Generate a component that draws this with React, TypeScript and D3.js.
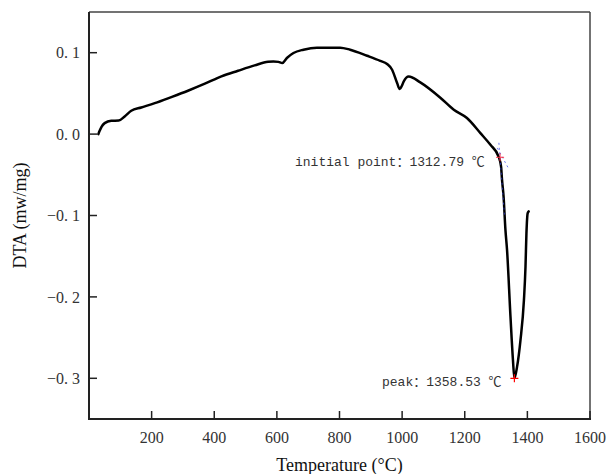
import React from 'react';
import * as d3 from 'd3';

// DTA curve
const temps = [30, 34, 40, 50, 71, 95, 114, 135, 167, 210, 263, 316, 370, 423, 476, 529, 572, 589, 605, 617, 632, 653, 685, 728, 802, 834, 888, 930, 952, 968, 984, 992, 1000, 1005, 1021, 1058, 1122, 1165, 1207, 1250, 1282, 1308, 1316, 1319, 1324, 1330, 1335, 1346, 1354, 1358.53, 1367, 1378, 1389, 1394, 1397, 1401, 1404];
const dta = [0.0, 0.004, 0.009, 0.0135, 0.0164, 0.0167, 0.0217, 0.0287, 0.0327, 0.038, 0.0455, 0.0533, 0.0619, 0.0709, 0.0778, 0.0844, 0.0889, 0.0893, 0.0887, 0.0873, 0.0935, 0.0996, 0.1037, 0.1062, 0.1062, 0.1037, 0.0963, 0.09, 0.0861, 0.0791, 0.0627, 0.0555, 0.06, 0.0647, 0.0709, 0.0635, 0.0447, 0.0299, 0.0197, 0.0012, -0.0132, -0.0276, -0.04, -0.056, -0.0767, -0.118, -0.142, -0.224, -0.278, -0.3, -0.286, -0.253, -0.204, -0.163, -0.122, -0.097, -0.095];

const xTicks = [200, 400, 600, 800, 1000, 1200, 1400, 1600];
const yTicks = [0.1, 0.0, -0.1, -0.2, -0.3];

const onset = { t: 1312.79, v: -0.0285, label: 'initial point：1312.79 ℃' };
const peak = { t: 1358.53, v: -0.3, label: 'peak：1358.53 ℃' };
// tangent lines drawn by the analysis software at the onset
const tangentA = [[1304, -0.017], [1339, -0.0416]];
const tangentB = [[1309, -0.0107], [1326.6, -0.099]];

const W = 608, H = 474;
const margin = { left: 89, right: 18, top: 12, bottom: 55 };

export default function App() {
    const x = d3.scaleLinear().domain([0, 1600]).range([margin.left, W - margin.right]);
    const y = d3.scaleLinear().domain([-0.35, 0.15]).range([H - margin.bottom, margin.top]);
    const [x0, x1] = x.range();
    const [y0, y1] = y.range();

    const line = d3.line<number>()
        .x((d, i) => x(temps[i]))
        .y(d => y(d))
        .curve(d3.curveMonotoneX);

    const fmt = (v: number) => d3.format('.1f')(v).replace('.', '. ').replace('-', '−');
    const serif = '"Liberation Serif", "Times New Roman", serif';
    const mono = '"Liberation Mono", "Noto Sans CJK SC", monospace';

    const plus = (cx: number, cy: number, s: number) =>
        `M${cx - s},${cy}H${cx + s}M${cx},${cy - s}V${cy + s}`;

    return (
        <svg width={W} height={H} style={{ position: 'absolute', left: 0, top: 0, background: '#fff' }}>
            {/* frame */}
            <line x1={x0} x2={x1} y1={y1} y2={y1} stroke="#444" strokeWidth={1.5} />
            <line x1={x1} x2={x1} y1={y1} y2={y0} stroke="#444" strokeWidth={1.5} />
            <line x1={x0} x2={x0} y1={y1} y2={y0 + 1} stroke="#222" strokeWidth={2} />
            <line x1={x0 - 1} x2={x1 + 1} y1={y0} y2={y0} stroke="#222" strokeWidth={2} />

            {xTicks.map(t => (
                <g key={t}>
                    <line x1={x(t)} x2={x(t)} y1={y0} y2={y0 - 8} stroke="#222" strokeWidth={1.5} />
                    <text x={x(t)} y={443} textAnchor="middle" fontFamily={serif} fontSize={16} fill="#333">{t}</text>
                </g>
            ))}
            {yTicks.map(t => (
                <g key={t}>
                    <line x1={x0} x2={x0 + 8} y1={y(t)} y2={y(t)} stroke="#222" strokeWidth={1.5} />
                    <text x={80} y={y(t)} dy="0.35em" textAnchor="end" fontFamily={serif} fontSize={16} fill="#333">{fmt(t)}</text>
                </g>
            ))}

            <text transform={`translate(26,${(y0 + y1) / 2}) rotate(-90)`} textAnchor="middle" fontFamily={serif} fontSize={18} fill="#111">DTA (mw/mg)</text>
            <text x={(x0 + x1) / 2} y={471} textAnchor="middle" fontFamily={serif} fontSize={18} fill="#111">Temperature (°C)</text>

            <path d={line(dta) || ''} fill="none" stroke="#000" strokeWidth={2.5} strokeLinejoin="round" strokeLinecap="round" />

            {[tangentA, tangentB].map((seg, i) => (
                <line key={i} x1={x(seg[0][0])} y1={y(seg[0][1])} x2={x(seg[1][0])} y2={y(seg[1][1])}
                    stroke="#3344ee" strokeWidth={1} strokeDasharray="2,3" opacity={0.7} />
            ))}

            <path d={plus(x(onset.t), y(onset.v), 4)} stroke="#ff3344" strokeWidth={1.2} opacity={0.8} />
            <path d={plus(x(peak.t), y(peak.v), 4)} stroke="#ff0000" strokeWidth={1.2} />

            <text x={295} y={166} fontFamily={mono} fontSize={13} fill="#333">{onset.label}</text>
            <text x={382} y={386} fontFamily={mono} fontSize={13} fill="#333">{peak.label}</text>
        </svg>
    );
}
